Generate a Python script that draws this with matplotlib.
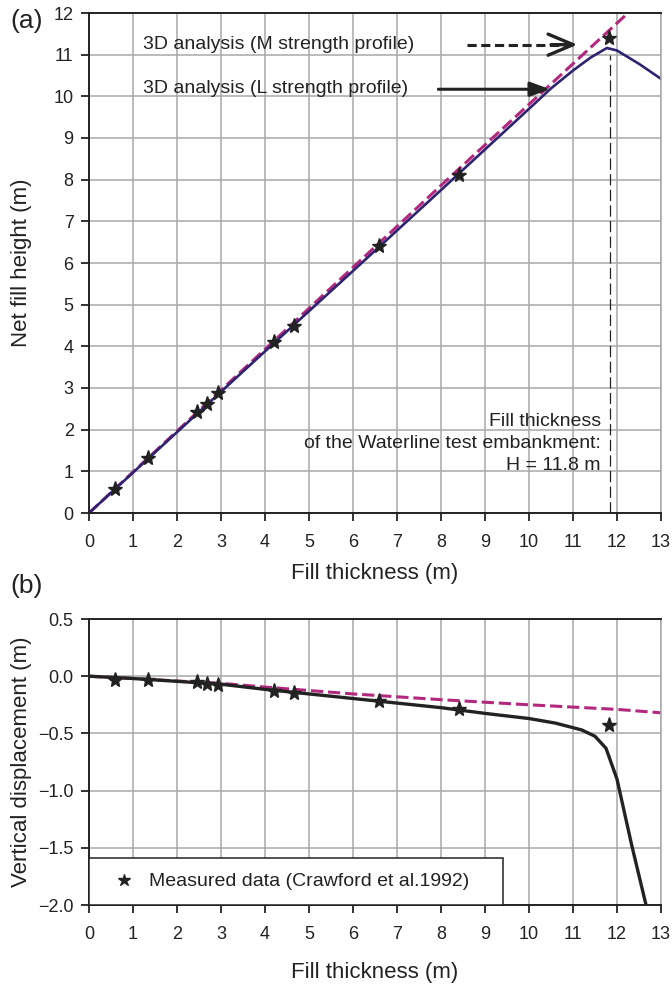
#!/usr/bin/env python3
"""
Waterline test embankment: net fill height (a) and vertical displacement (b)
against fill thickness, 3D analysis with L / M strength profiles vs measured data.
"""
import matplotlib

matplotlib.use("Agg")
import matplotlib.pyplot as plt

plt.rcParams["font.family"] = ["Liberation Sans", "DejaVu Sans"]

# Measured data (Crawford et al. 1992)
MEAS_THICKNESS = [0.6, 1.35, 2.45, 2.68, 2.93, 4.2, 4.65, 6.6, 8.4, 11.82]
MEAS_HEIGHT = [0.58, 1.33, 2.42, 2.62, 2.87, 4.1, 4.5, 6.4, 8.12, 11.41]
MEAS_DISP = [-0.03, -0.035, -0.05, -0.07, -0.08, -0.13, -0.15, -0.22, -0.29, -0.43]

# (a) net fill height, L strength profile (solid) and M strength profile (dashed)
L_THICKNESS = [0, 2, 4, 6, 8, 10, 10.5, 11.0, 11.4, 11.77, 12.0, 12.5, 13.0]
L_HEIGHT = [0, 1.94, 3.88, 5.81, 7.75, 9.7, 10.19, 10.62, 10.93, 11.16, 11.1, 10.78, 10.42]
M_THICKNESS = [0, 4, 8, 12.25]
M_HEIGHT = [0, 3.93, 7.86, 12.0]

# (b) vertical displacement
L_DISP_X = [0, 1, 2, 3, 4, 5, 6, 7, 8, 9, 10, 10.6, 11.2, 11.5, 11.75, 12.0, 12.33, 12.66]
L_DISP = [0, -0.02, -0.045, -0.07, -0.115, -0.155, -0.195, -0.235, -0.275, -0.325,
          -0.37, -0.41, -0.47, -0.525, -0.63, -0.9, -1.47, -2.0]
M_DISP_X = [0, 1, 2, 3, 4, 6, 8, 10, 12, 13]
M_DISP = [0, -0.02, -0.042, -0.062, -0.095, -0.155, -0.205, -0.25, -0.29, -0.32]

H_FILL = 11.84  # fill thickness of the test embankment
NOTE_LINES = ["Fill thickness", "of the Waterline test embankment:", "H = 11.8 m"]

NAVY = "#2c2470"
MAGENTA = "#b3287f"
INK = "#222222"
GRID = "#a8a8a8"

W, H = 672, 992


def style_axes(ax):
    ax.set_axisbelow(True)
    ax.grid(True, color=GRID, lw=1.1)
    for side in ("left", "bottom", "top"):
        ax.spines[side].set_color(INK)
        ax.spines[side].set_linewidth(1.4)
    ax.spines["right"].set_color(GRID)
    ax.spines["right"].set_linewidth(1.1)
    ax.tick_params(direction="out", length=6, width=1.3, labelsize=13, colors=INK)
    ax.tick_params(axis="x", pad=9)
    ax.tick_params(axis="y", pad=5)
    ax.set_xlim(0, 13)
    ax.set_xticks(range(0, 14))


def run():
    fig = plt.figure(figsize=(W / 100, H / 100), dpi=100)
    ax_a = fig.add_axes([89 / W, 1 - 513 / H, 572 / W, 500 / H])
    ax_b = fig.add_axes([89 / W, 1 - 905 / H, 572 / W, 286 / H])

    # ---- (a)
    style_axes(ax_a)
    ax_a.set_ylim(0, 12)
    ax_a.set_yticks(range(0, 13))
    ax_a.plot(M_THICKNESS, M_HEIGHT, color=MAGENTA, lw=2.2, ls=(0, (4, 1.6)))
    ax_a.plot(L_THICKNESS, L_HEIGHT, color=NAVY, lw=1.9)
    ax_a.plot([H_FILL, H_FILL], [0, 11.0], color=INK, lw=0.9, ls=(0, (9, 3.5)))
    ax_a.plot(MEAS_THICKNESS, MEAS_HEIGHT, ls="none", marker="*", ms=11, color=INK)

    ax_a.text(1.22, 11.24, "3D analysis (M strength profile)", fontsize=14,
              color=INK, va="center")
    ax_a.text(1.22, 10.18, "3D analysis (L strength profile)", fontsize=14,
              color=INK, va="center")
    # dashed arrow for M, solid arrow for L
    ax_a.plot([8.59, 10.95], [11.24, 11.24], color=INK, lw=2.2, ls=(0, (3, 1.5)))
    ax_a.annotate("", xy=(11.1, 11.24), xytext=(10.5, 11.24),
                  arrowprops=dict(arrowstyle="->,head_length=0.9,head_width=0.38",
                                  color=INK, lw=2.4, mutation_scale=20,
                                  shrinkA=0, shrinkB=0))
    ax_a.annotate("", xy=(10.48, 10.17), xytext=(7.94, 10.17),
                  arrowprops=dict(arrowstyle="-|>,head_length=0.6,head_width=0.22",
                                  color=INK, lw=2.2, mutation_scale=20,
                                  shrinkA=0, shrinkB=0))
    for line, y in zip(NOTE_LINES, [2.2, 1.68, 1.15]):
        ax_a.text(11.63, y, line, fontsize=14, color=INK, ha="right", va="center")

    ax_a.set_xlabel("Fill thickness (m)", fontsize=16, color=INK, va="top")
    ax_a.set_ylabel("Net fill height (m)", fontsize=16, color=INK)
    ax_a.xaxis.set_label_coords(0.5, -0.099)
    ax_a.yaxis.set_label_coords(-0.099, 0.5)

    # ---- (b)
    style_axes(ax_b)
    ax_b.set_ylim(-2.0, 0.5)
    ax_b.set_yticks([0.5, 0.0, -0.5, -1.0, -1.5, -2.0])
    ax_b.plot(M_DISP_X, M_DISP, color=MAGENTA, lw=2.2, ls=(0, (4, 1.6)))
    ax_b.plot(L_DISP_X, L_DISP, color=INK, lw=2.4)
    ax_b.plot(MEAS_THICKNESS, MEAS_DISP, ls="none", marker="*", ms=11, color=INK,
              label="Measured data (Crawford et al.1992)")
    leg = ax_b.legend(loc="lower left", bbox_to_anchor=(0, 0, 414 / 572, 0.2),
                      mode="expand", borderaxespad=0, fontsize=14, fancybox=False,
                      framealpha=1, edgecolor=INK, borderpad=0.75,
                      handlelength=2.1, handletextpad=0.25, markerscale=0.85)
    leg.get_frame().set_linewidth(1.1)
    for t in leg.get_texts():
        t.set_color(INK)

    ax_b.set_xlabel("Fill thickness (m)", fontsize=16, color=INK, va="top")
    ax_b.set_ylabel("Vertical displacement (m)", fontsize=16, color=INK)
    ax_b.xaxis.set_label_coords(0.5, -0.2)
    ax_b.yaxis.set_label_coords(-0.099, 0.5)

    fig.text(27 / W, 1 - 21 / H, "(a)", fontsize=19, color=INK, ha="center", va="center")
    fig.text(27 / W, 1 - 586 / H, "(b)", fontsize=19, color=INK, ha="center", va="center")

    fig.savefig("out.png", dpi=100)
    plt.close(fig)


if __name__ == "__main__":
    run()
